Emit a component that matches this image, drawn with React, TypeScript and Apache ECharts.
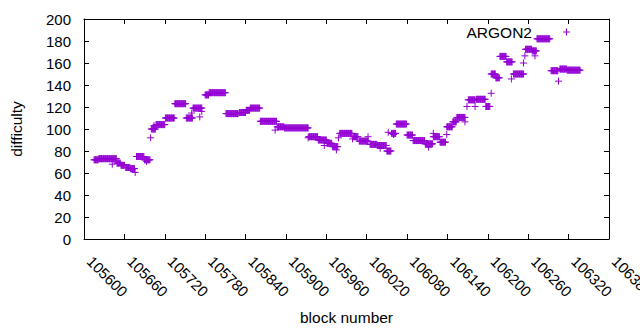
import React, { useEffect, useRef } from "react";
import * as echarts from "echarts";

// Plateaus: every block in [start, end] has the value
const runStart = [105615, 105622, 105649, 105655, 105662, 105669, 105678, 105690, 105700, 105707, 105721, 105735, 105752, 105762, 105780, 105786, 105811, 105831, 105841, 105847, 105862, 105887, 105898, 105934, 105948, 105961, 105969, 105980, 106000, 106009, 106025, 106036, 106050, 106057, 106064, 106080, 106089, 106107, 106119, 106129, 106139, 106148, 106154, 106171, 106183, 106197, 106205, 106212, 106218, 106228, 106238, 106256, 106266, 106273, 106294, 106307, 106318];
const runEnd = [105621, 105648, 105654, 105660, 105668, 105675, 105689, 105698, 105706, 105720, 105734, 105751, 105761, 105775, 105785, 105810, 105829, 105840, 105846, 105861, 105886, 105897, 105933, 105947, 105960, 105968, 105977, 105998, 106007, 106022, 106035, 106049, 106056, 106063, 106079, 106088, 106106, 106118, 106128, 106137, 106147, 106153, 106166, 106181, 106196, 106203, 106211, 106217, 106227, 106236, 106253, 106265, 106272, 106292, 106304, 106317, 106337];
const runValue = [72, 73, 69, 67, 65, 64, 75, 72, 100, 104, 110, 123, 110, 119, 131, 133, 114, 115, 117, 119, 107, 102, 101, 93, 90, 87, 84, 96, 93, 89, 86, 85, 80, 96, 104.5, 94.5, 89.5, 86.5, 93, 88, 102, 106.5, 110.5, 126.5, 127, 120.5, 150, 146.5, 166, 161, 150, 172.5, 171, 182, 153, 154.5, 153.5];

// Isolated points
const extraBlock = [105642, 105676, 105693, 105699, 105704, 105760, 105772, 105775, 105884, 105933, 105957, 105975, 105978, 105999, 106003, 106022, 106040, 106052, 106060, 106112, 106119, 106139, 106166, 106169, 106181, 106205, 106235, 106253, 106255, 106270, 106305];
const extraValue = [68, 60.5, 70.5, 92, 103, 114.5, 111, 116, 99, 92, 85, 81, 92, 91, 93, 93, 82.5, 97, 95, 83.5, 96, 95, 106.5, 120.5, 120.5, 132.5, 145.5, 160, 166.5, 166.5, 143.5];

const seriesName = "ARGON2";
const xMin = 105600;
const xMax = 106380;
const xStep = 60;
const yMin = 0;
const yMax = 200;
const yStep = 20;

const PLUS = "path://M0,5L10,5M5,0L5,10";
const PURPLE = "#9400D3";
const FONT = "Liberation Sans";

export default function App() {
  const ref = useRef<HTMLDivElement>(null);
  useEffect(() => {
    if (!ref.current) return;
    const chart = echarts.init(ref.current, undefined, { renderer: "svg" });
    const points: number[][] = [];
    runStart.forEach((s, i) => {
      for (let b = s; b <= runEnd[i]; b++) points.push([b, runValue[i]]);
    });
    extraBlock.forEach((b, i) => points.push([b, extraValue[i]]));

    const axisCommon = {
      axisLine: { show: true, onZero: false, lineStyle: { color: "#000", width: 1 } },
      axisTick: { show: true, inside: true, length: 5, lineStyle: { color: "#000" } },
      splitLine: { show: false },
    };

    chart.setOption({
      animation: false,
      backgroundColor: "#fff",
      grid: { left: 84, right: 31, top: 19, bottom: 91, containLabel: false, outerBoundsMode: "none" },
      legend: {
        data: [seriesName],
        right: 69.5,
        top: 24,
        padding: 0,
        align: "right",
        icon: PLUS,
        itemWidth: 7,
        itemHeight: 7,
        itemStyle: { color: PURPLE, borderColor: PURPLE, borderWidth: 1 },
        textStyle: { fontFamily: FONT, fontSize: 15.5, color: "#000", padding: [0, 26, 0, 0] },
      },
      xAxis: [
        {
          type: "value",
          min: xMin,
          max: xMax,
          interval: xStep,
          ...axisCommon,
          axisLabel: {
            rotate: -45,
            margin: 14,
            padding: [0, 0, 0, 8],
            showMinLabel: true,
            showMaxLabel: true,
            fontFamily: FONT,
            fontSize: 15,
            color: "#000",
            formatter: (v: number) => String(v),
          },
          name: "block number",
          nameLocation: "middle",
          nameGap: 70,
          nameTextStyle: { fontFamily: FONT, fontSize: 15.5, color: "#000" },
        },
        {
          type: "value",
          position: "top",
          min: xMin,
          max: xMax,
          interval: xStep,
          ...axisCommon,
          axisLabel: { show: false },
        },
      ],
      yAxis: [
        {
          type: "value",
          min: yMin,
          max: yMax,
          interval: yStep,
          ...axisCommon,
          axisLabel: { margin: 13, fontFamily: FONT, fontSize: 15, color: "#000" },
          name: "difficulty",
          nameLocation: "middle",
          nameGap: 60,
          nameTextStyle: { fontFamily: FONT, fontSize: 15.5, color: "#000" },
        },
        {
          type: "value",
          position: "right",
          min: yMin,
          max: yMax,
          interval: yStep,
          ...axisCommon,
          axisLabel: { show: false },
        },
      ],
      series: [
        {
          name: seriesName,
          type: "scatter",
          data: points,
          symbol: PLUS,
          symbolSize: 7,
          itemStyle: { color: PURPLE, borderColor: PURPLE, borderWidth: 1, opacity: 1 },
          emphasis: { disabled: true },
        },
      ],
    });
    return () => chart.dispose();
  }, []);
  return (
    <div
      ref={ref}
      style={{ position: "fixed", left: 0, top: 0, width: 640, height: 330, background: "#fff" }}
    />
  );
}
